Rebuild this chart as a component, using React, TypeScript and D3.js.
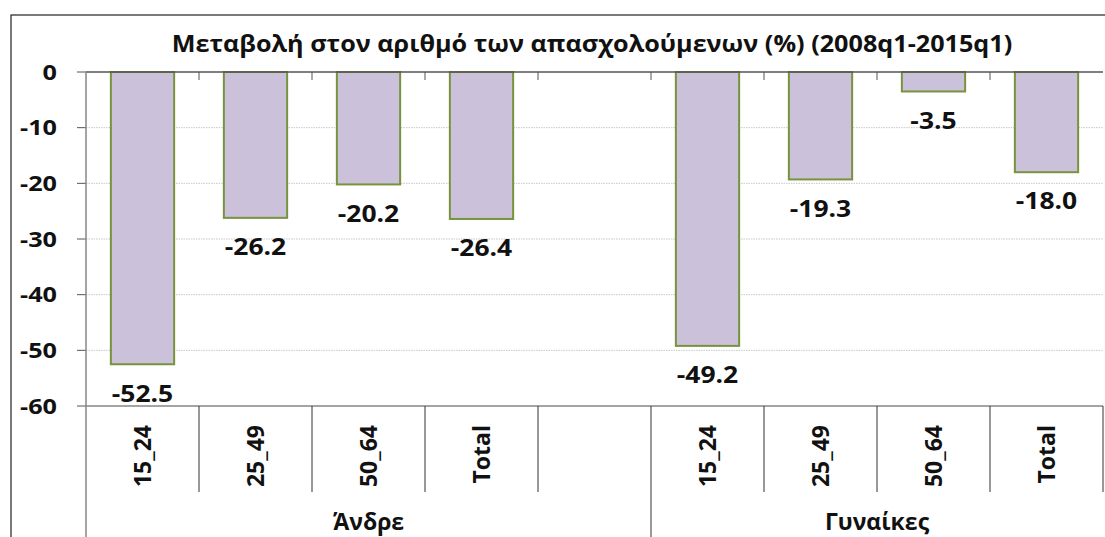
import React from "react";
import * as d3 from "d3";

const title = "Μεταβολή στον αριθμό των απασχολούμενων (%) (2008q1-2015q1)";
const categories = ["15_24", "25_49", "50_64", "Total", "", "15_24", "25_49", "50_64", "Total"];
const values: (number | null)[] = [-52.5, -26.2, -20.2, -26.4, null, -49.2, -19.3, -3.5, -18.0];
const groups = [
  { name: "Άνδρε", start: 0, end: 5 },
  { name: "Γυναίκες", start: 5, end: 9 },
];
const yTicks = [0, -10, -20, -30, -40, -50, -60];

const W = 1105, H = 537;
const left = 86, right = 1103, top = 72, bottom = 406;
const FONT = "'Open Sans', 'DejaVu Sans', sans-serif";

function T({ x, y, sx = 1, rot = 0, anchor = "middle", size, dy = "0", children }: any) {
  return (
    <text
      transform={`translate(${x},${y}) rotate(${rot}) scale(${sx},1)`}
      textAnchor={anchor}
      dy={dy}
      fontSize={size}
      fontWeight="bold"
      fill="#111"
    >
      {children}
    </text>
  );
}

export default function App() {
  const x = d3.scaleBand<number>().domain(d3.range(categories.length)).range([left, right]).paddingInner(0.44).paddingOuter(0.22);
  const xb = d3.scaleBand<number>().domain(d3.range(categories.length)).range([left, right]);
  const y = d3.scaleLinear().domain([0, -60]).range([top, bottom]);
  const bw = x.bandwidth();
  return (
    <svg width={W} height={H} style={{ position: "absolute", left: 0, top: 0, background: "#fff" }} fontFamily={FONT}>
      <rect x={11} y={15} width={W} height={H} fill="#fff" stroke="#222" strokeWidth={1.2} />
      <T x={592} y={52} size={24} sx={1.05}>{title}</T>
      {yTicks.map((t) => (
        <g key={t}>
          {t !== 0 && t !== -60 && (
            <line x1={left} x2={right} y1={y(t)} y2={y(t)} stroke="#c8c8c8" strokeWidth={1} strokeDasharray="1.5 1" />
          )}
          <line x1={77} x2={left} y1={y(t)} y2={y(t)} stroke="#555" strokeWidth={1} />
          <T x={57} y={y(t)} dy="0.36em" anchor="end" size={21} sx={1.2}>{t}</T>
        </g>
      ))}
      {values.map((v, i) =>
        v === null ? null : (
          <g key={i}>
            <rect x={x(i)!} y={y(0)} width={bw} height={y(v) - y(0)} fill="#CCC1DA" stroke="#77933C" strokeWidth={2} />
            <T x={x(i)! + bw / 2} y={y(v) + 29} dy="0.36em" size={23} sx={1.15}>
              {v.toFixed(1)}
            </T>
          </g>
        )
      )}
      <line x1={left} x2={right} y1={bottom} y2={bottom} stroke="#868686" strokeWidth={1.5} />
      <line x1={left} x2={right} y1={top} y2={top} stroke="#555" strokeWidth={1.5} />
      {d3.range(1, categories.length).map((i) => (
        <line key={"tt" + i} x1={xb(i)!} x2={xb(i)!} y1={top} y2={top + 8} stroke="#555" strokeWidth={1} />
      ))}
      <line x1={left} x2={left} y1={top} y2={H} stroke="#868686" strokeWidth={1.5} />
      {d3.range(1, categories.length).map((i) => (
        <line key={"cs" + i} x1={xb(i)!} x2={xb(i)!} y1={bottom} y2={groups.some((g) => g.start === i) ? H : 492} stroke="#333" strokeWidth={1} />
      ))}
      <line x1={right} x2={right} y1={bottom} y2={492} stroke="#333" strokeWidth={1} />
      {categories.map((c, i) => (
        <T key={"cl" + i} x={xb(i)! + xb.bandwidth() / 2 + 8} y={425} rot={-90} anchor="end" size={23}>
          {c}
        </T>
      ))}
      {groups.map((g) => (
        <T key={g.name} x={(xb(g.start)! + (g.end < categories.length ? xb(g.end)! : right)) / 2} y={530} size={23}>
          {g.name}
        </T>
      ))}
    </svg>
  );
}
